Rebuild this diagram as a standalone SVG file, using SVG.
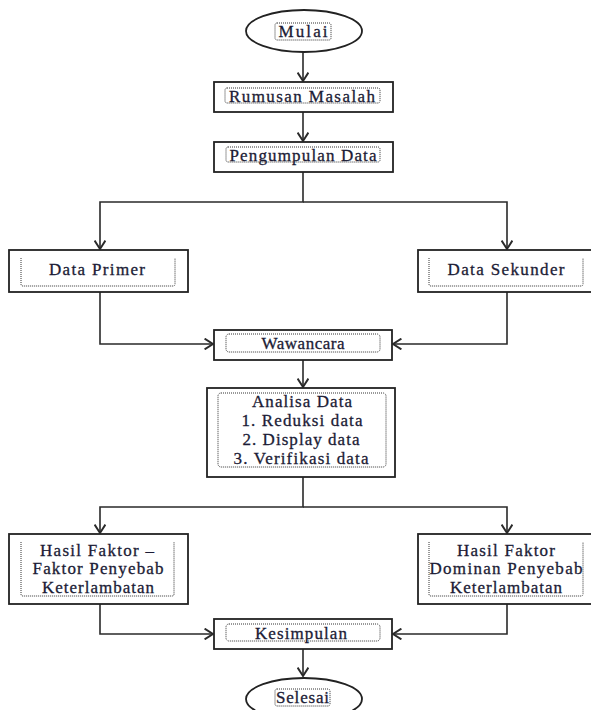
<svg xmlns="http://www.w3.org/2000/svg" width="591" height="710" viewBox="0 0 591 710">
<style>
.box{fill:#fff;stroke:#222;stroke-width:1.8}
.dot{fill:none;stroke:#333;stroke-width:1;stroke-dasharray:1 1}
.ln{fill:none;stroke:#2a2a2a;stroke-width:1.6}
text{font-family:"Liberation Serif","Times New Roman",serif;font-size:17px;fill:#1c1c36;stroke:#1c1c36;stroke-width:0.3;text-anchor:middle}
</style>
<defs>
<marker id="ah" markerUnits="userSpaceOnUse" markerWidth="12" markerHeight="12" refX="8" refY="5" orient="auto" viewBox="0 0 10 10">
<path d="M1,0.5 L8,5 L1,9.5" fill="none" stroke="#2a2a2a" stroke-width="1.6"/>
</marker>
</defs>
<rect width="591" height="710" fill="#fff"/>
<g id="connectors">
<line class="ln" x1="303" y1="52" x2="303" y2="81" marker-end="url(#ah)"/>
<line class="ln" x1="303" y1="112" x2="303" y2="141" marker-end="url(#ah)"/>
<polyline class="ln" points="303,172 303,202 100,202 100,249" marker-end="url(#ah)"/>
<polyline class="ln" points="303,202 507,202 507,249" marker-end="url(#ah)"/>
<polyline class="ln" points="100,292 100,344 213,344" marker-end="url(#ah)"/>
<polyline class="ln" points="507,292 507,344 393,344" marker-end="url(#ah)"/>
<line class="ln" x1="303" y1="360" x2="303" y2="387" marker-end="url(#ah)"/>
<polyline class="ln" points="303,477 303,507 100,507 100,533" marker-end="url(#ah)"/>
<polyline class="ln" points="303,507 507,507 507,533" marker-end="url(#ah)"/>
<polyline class="ln" points="100,604 100,634 213,634" marker-end="url(#ah)"/>
<polyline class="ln" points="507,604 507,634 393,634" marker-end="url(#ah)"/>
<line class="ln" x1="303" y1="649" x2="303" y2="676" marker-end="url(#ah)"/>
</g>
<g id="mulai">
<ellipse class="box" cx="304" cy="31" rx="58" ry="21"/>
<rect class="dot" x="275" y="23" width="56" height="17" rx="2"/>
<text x="303" y="37" textLength="49" lengthAdjust="spacing">Mulai</text>
</g>
<g id="rumusan">
<rect class="box" x="214" y="82" width="179" height="30"/>
<rect class="dot" x="225" y="88" width="155" height="15" rx="2"/>
<text x="302" y="102" textLength="146" lengthAdjust="spacing">Rumusan Masalah</text>
</g>
<g id="pengumpulan">
<rect class="box" x="214" y="142" width="179" height="30"/>
<rect class="dot" x="226" y="147" width="154" height="15" rx="2"/>
<text x="303" y="161" textLength="147" lengthAdjust="spacing">Pengumpulan Data</text>
</g>
<g id="primer">
<rect class="box" x="9" y="250" width="179" height="42"/>
<path class="dot" d="M21,258 V284 Q21,286 23,286 H173 Q175,286 175,284 V258"/>
<text x="97" y="275" textLength="96" lengthAdjust="spacing">Data Primer</text>
</g>
<g id="sekunder">
<rect class="box" x="418" y="250" width="178" height="42"/>
<path class="dot" d="M429,258 V284 Q429,286 431,286 H581 Q583,286 583,284 V258"/>
<text x="506" y="275" textLength="117" lengthAdjust="spacing">Data Sekunder</text>
</g>
<g id="wawancara">
<rect class="box" x="214" y="330" width="178" height="30"/>
<rect class="dot" x="226" y="334" width="154" height="18" rx="3"/>
<text x="303" y="349" textLength="83" lengthAdjust="spacing">Wawancara</text>
</g>
<g id="analisa">
<rect class="box" x="207" y="388" width="188" height="89"/>
<rect class="dot" x="218" y="393" width="168" height="74" rx="3"/>
<text x="302" y="407" textLength="100" lengthAdjust="spacing">Analisa Data</text>
<text x="302" y="426" textLength="121" lengthAdjust="spacing">1. Reduksi data</text>
<text x="301" y="445" textLength="117" lengthAdjust="spacing">2. Display data</text>
<text x="301" y="464" textLength="135" lengthAdjust="spacing">3. Verifikasi data</text>
</g>
<g id="hasil-faktor">
<rect class="box" x="9" y="534" width="179" height="70"/>
<path class="dot" d="M21,542 V594 Q21,596 23,596 H172 Q174,596 174,594 V542"/>
<text x="97" y="556" textLength="114" lengthAdjust="spacing">Hasil Faktor –</text>
<text x="98" y="574" textLength="131" lengthAdjust="spacing">Faktor Penyebab</text>
<text x="98" y="593" textLength="112" lengthAdjust="spacing">Keterlambatan</text>
</g>
<g id="hasil-dominan">
<rect class="box" x="418" y="534" width="178" height="70"/>
<path class="dot" d="M429,542 V594 Q429,596 431,596 H581 Q583,596 583,594 V542"/>
<text x="506" y="556" textLength="98" lengthAdjust="spacing">Hasil Faktor</text>
<text x="506" y="574" textLength="153" lengthAdjust="spacing">Dominan Penyebab</text>
<text x="506" y="593" textLength="112" lengthAdjust="spacing">Keterlambatan</text>
</g>
<g id="kesimpulan">
<rect class="box" x="214" y="619" width="178" height="30"/>
<rect class="dot" x="226" y="624" width="154" height="17" rx="3"/>
<text x="301" y="639" textLength="92" lengthAdjust="spacing">Kesimpulan</text>
</g>
<g id="selesai">
<ellipse class="box" cx="304" cy="699" rx="58" ry="21"/>
<rect class="dot" x="275" y="689" width="55" height="17" rx="2"/>
<text x="302.5" y="703" textLength="53" lengthAdjust="spacing">Selesai</text>
</g>
</svg>
